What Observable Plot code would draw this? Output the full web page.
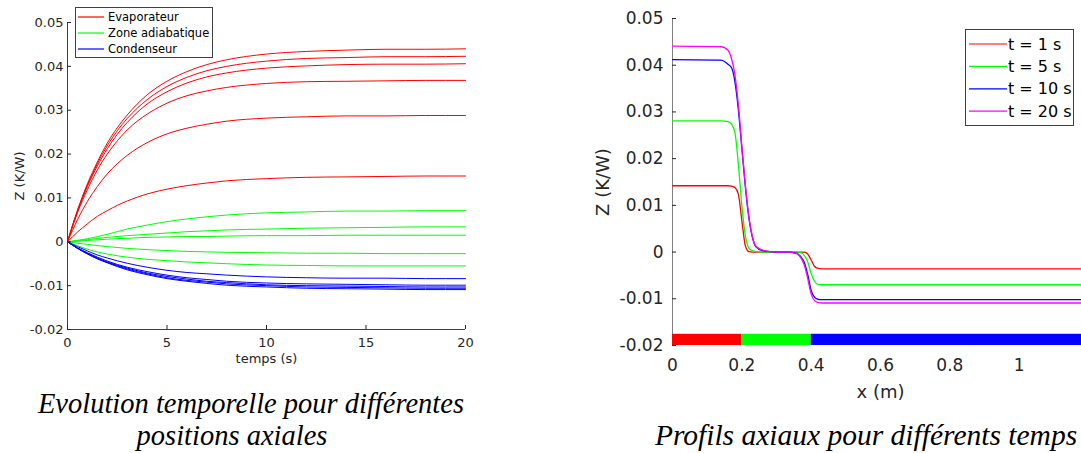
<!DOCTYPE html>
<html><head><meta charset="utf-8">
<script src="https://cdn.jsdelivr.net/npm/d3@7"></script>
<script src="https://cdn.jsdelivr.net/npm/@observablehq/plot@0.6"></script>
<style>
html,body{margin:0;padding:0;background:#fff;overflow:hidden;}
#page{position:relative;width:1081px;height:453px;overflow:hidden;background:#fff;}
#left{position:absolute;left:0;top:0;width:540px;height:380px;}
#right{position:absolute;left:540px;top:0;width:548px;height:420px;}
#left svg,#right svg{max-width:none !important;}
#overlay{position:absolute;left:0;top:0;pointer-events:none;}
</style></head><body>
<div id="page"><div id="left"></div><div id="right"></div><svg id="overlay" width="1081" height="453"></svg></div>
<script>
// ---------- Left panel: temporal evolution at several axial positions ----------
const timeEvap = [0,0.5,1,1.5,2,2.5,3,4,5,6,7,8,10,12,14,16,18,20];
const evap1 = [0,0.0072,0.0132,0.0182,0.0225,0.0260,0.0289,0.0335,0.0366,0.0388,0.0404,0.0415,0.0428,0.0434,0.0437,0.0439,0.0439,0.0440];
const evap2 = [0,0.0070,0.0129,0.0178,0.0219,0.0253,0.0281,0.0324,0.0354,0.0375,0.0390,0.0400,0.0412,0.0418,0.0420,0.0422,0.0422,0.0423];
const evap3 = [0,0.0069,0.0126,0.0173,0.0212,0.0245,0.0272,0.0314,0.0342,0.0362,0.0376,0.0385,0.0396,0.0401,0.0404,0.0405,0.0405,0.0406];
const evap4 = [0,0.0066,0.0119,0.0164,0.0200,0.0230,0.0255,0.0291,0.0316,0.0333,0.0344,0.0352,0.0361,0.0365,0.0366,0.0367,0.0368,0.0368];
const evap5 = [0,0.0050,0.0092,0.0126,0.0155,0.0178,0.0197,0.0226,0.0246,0.0259,0.0268,0.0275,0.0282,0.0285,0.0287,0.0287,0.0288,0.0288];
const evap6 = [0,0.0022,0.0041,0.0058,0.0071,0.0083,0.0093,0.0109,0.0120,0.0128,0.0134,0.0139,0.0144,0.0147,0.0148,0.0149,0.0150,0.0150];

const timeAdiab = [0,1,2,3,4,5,6,7,8,10,12,14,16,18,20];
const adiab1 = [0,0.0007,0.0017,0.0029,0.0038,0.0046,0.0052,0.0057,0.0061,0.0066,0.0068,0.0070,0.0070,0.0071,0.0071];
const adiab2 = [0,0.0005,0.0010,0.0014,0.0017,0.0020,0.0023,0.0025,0.0027,0.0029,0.0031,0.0032,0.0033,0.0034,0.0034];
const adiab3 = [0,0.0003,0.0006,0.0008,0.0010,0.0011,0.0012,0.0012,0.0013,0.0014,0.0014,0.0015,0.0015,0.0015,0.0015];
const adiab4 = [0,-0.0006,-0.0011,-0.0015,-0.0018,-0.0020,-0.0022,-0.0023,-0.0024,-0.0025,-0.0026,-0.0026,-0.0027,-0.0027,-0.0027];
const adiab5 = [0,-0.0017,-0.0028,-0.0035,-0.0040,-0.0043,-0.0046,-0.0048,-0.0050,-0.0053,-0.0054,-0.0055,-0.0055,-0.0055,-0.0055];

const timeCond = [0,0.5,1,1.5,2,3,4,5,6,7,8,10,12,14,16,18,20];
const cond1 = [0,-0.0011,-0.0021,-0.0030,-0.0037,-0.0049,-0.0058,-0.0065,-0.0070,-0.0073,-0.0076,-0.0080,-0.0082,-0.0083,-0.0083,-0.0084,-0.0084];
const cond2 = [0,-0.0014,-0.0025,-0.0035,-0.0044,-0.0058,-0.0068,-0.0076,-0.0082,-0.0086,-0.0090,-0.0094,-0.0096,-0.0097,-0.0098,-0.0099,-0.0099];
const cond3 = [0,-0.0014,-0.0026,-0.0037,-0.0046,-0.0060,-0.0071,-0.0079,-0.0085,-0.0090,-0.0093,-0.0098,-0.0100,-0.0101,-0.0102,-0.0103,-0.0103];
const cond4 = [0,-0.0015,-0.0027,-0.0038,-0.0047,-0.0062,-0.0073,-0.0082,-0.0088,-0.0092,-0.0096,-0.0100,-0.0103,-0.0104,-0.0105,-0.0106,-0.0106];
const cond5 = [0,-0.0015,-0.0028,-0.0039,-0.0048,-0.0064,-0.0075,-0.0084,-0.0090,-0.0095,-0.0099,-0.0103,-0.0106,-0.0107,-0.0108,-0.0109,-0.0109];

const zoneLabels = ["Evaporateur", "Zone adiabatique", "Condenseur"];
const zoneColors = ["#ff0000", "#00ff00", "#0000ff"];
const leftYTicks = [-0.02,-0.01,0,0.01,0.02,0.03,0.04,0.05];
const leftXTicks = [0,5,10,15,20];

// ---------- Right panel: axial profiles at several times ----------
const xPos = [0,0.14,0.16,0.17,0.18,0.19,0.20,0.21,0.22,0.23,0.24,0.26,0.28,0.30,0.34,0.35,0.36,0.37,0.38,0.39,0.40,0.41,0.42,0.43,0.45,0.50,0.80,1.20];
const prof1s  = [0.0142,0.0142,0.0142,0.0141,0.0138,0.0124,0.0068,0.0014,0.0001,0,0,0,0,0,0,0,0,0,0,-0.0004,-0.0017,-0.0031,-0.0035,-0.0036,-0.0036,-0.0036,-0.0036,-0.0036];
const prof5s  = [0.0281,0.0281,0.0279,0.0274,0.0256,0.0188,0.0100,0.0036,0.0009,0.0003,0.0001,0,0,0,0,0,0,-0.0001,-0.0007,-0.0021,-0.0046,-0.0063,-0.0069,-0.0070,-0.0070,-0.0070,-0.0070,-0.0070];
const prof10s = [0.0412,0.0411,0.0402,0.0395,0.0365,0.0305,0.0222,0.0141,0.0075,0.0033,0.0012,0.0003,0.0001,0,0,-0.0001,-0.0003,-0.0010,-0.0022,-0.0048,-0.0082,-0.0097,-0.0101,-0.0102,-0.0102,-0.0102,-0.0102,-0.0102];
const prof20s = [0.0441,0.0440,0.0432,0.0415,0.0380,0.0315,0.0228,0.0145,0.0078,0.0035,0.0013,0.0004,0.0001,0,0,-0.0002,-0.0004,-0.0012,-0.0027,-0.0056,-0.0090,-0.0104,-0.0108,-0.0109,-0.0109,-0.0109,-0.0109,-0.0109];
const profLabels = ["t = 1 s", "t = 5 s", "t = 10 s", "t = 20 s"];
const profColors = ["#ff0000", "#00ff00", "#0000ff", "#ff00ff"];

const zoneStart = [0, 0.2, 0.4];
const zoneEnd = [0.2, 0.4, 1.2];
const rightYTicks = [-0.02,-0.01,0,0.01,0.02,0.03,0.04,0.05];
const rightXTicks = [0,0.2,0.4,0.6,0.8,1];

const captionLeft = ["Evolution temporelle pour différentes", "positions axiales"];
const captionRight = "Profils axiaux pour différents temps";

// ---------- build tables ----------
const leftRows = [];
[[timeEvap, [evap1,evap2,evap3,evap4,evap5,evap6], 0],
 [timeAdiab, [adiab1,adiab2,adiab3,adiab4,adiab5], 1],
 [timeCond, [cond1,cond2,cond3,cond4,cond5], 2]].forEach(([ts, list, g]) => {
  list.forEach((vals, i) => vals.forEach((z, k) => leftRows.push({t: ts[k], z, id: g + "-" + i, color: zoneColors[g]})));
});
const rightRows = [];
[prof1s, prof5s, prof10s, prof20s].forEach((vals, i) => vals.forEach((z, k) => rightRows.push({x: xPos[k], z, id: i, color: profColors[i]})));
const zones = zoneStart.map((s, i) => ({x1: s, x2: zoneEnd[i], color: zoneColors[i]}));

const fmtZ = d => d === 0 ? "0" : d.toFixed(2);
const txt = "#262626";

const left = Plot.plot({
  width: 540, height: 380,
  marginLeft: 67, marginRight: 75, marginTop: 22, marginBottom: 51,
  style: {fontFamily: "DejaVu Sans", fontSize: "13px", background: "transparent", color: txt},
  x: {domain: [0, 20]},
  y: {domain: [-0.02, 0.05]},
  color: {type: "identity"},
  marks: [
    Plot.line(leftRows, {x: "t", y: "z", z: "id", stroke: "color", strokeWidth: 1, curve: "monotone-x"}),
    Plot.ruleX([0], {stroke: "#404040"}),
    Plot.ruleY([-0.02], {stroke: "#404040"}),
    Plot.axisY({ticks: leftYTicks, tickSize: -4, tickPadding: 8, tickFormat: fmtZ, label: null, color: txt, fontSize: 13}),
    Plot.axisX({ticks: leftXTicks, tickSize: -4, tickPadding: 12, tickFormat: d => String(d), label: null, color: txt, fontSize: 13}),
    Plot.text(["Z (K/W)"], {text: d => d, frameAnchor: "left", textAnchor: "middle", lineAnchor: "middle", rotate: -90, dx: -48, fontSize: 13, fill: txt}),
    Plot.text(["temps (s)"], {text: d => d, frameAnchor: "bottom", textAnchor: "middle", lineAnchor: "middle", dy: 29, fontSize: 13, fill: txt})
  ]
});
document.getElementById("left").appendChild(left);

const right = Plot.plot({
  width: 548, height: 420,
  marginLeft: 132, marginRight: 0, marginTop: 18, marginBottom: 75,
  style: {fontFamily: "DejaVu Sans", fontSize: "17px", background: "transparent", color: txt},
  x: {domain: [0, 1.2]},
  y: {domain: [-0.02, 0.05]},
  color: {type: "identity"},
  marks: [
    Plot.ruleX([0], {stroke: "#808080"}),
    Plot.line(rightRows, {x: "x", y: "z", z: "id", stroke: "color", strokeWidth: 1.3, curve: "monotone-x"}),
    Plot.rect(zones, {x1: "x1", x2: "x2", y1: -0.02, y2: -0.0176, fill: "color"}),
    Plot.axisY({ticks: rightYTicks, tickSize: -4, tickPadding: 13, tickFormat: fmtZ, label: null, color: txt, fontSize: 17}),
    Plot.axisX({ticks: rightXTicks, tickSize: 0, tickPadding: 13, tickFormat: d => String(d), label: null, color: txt, fontSize: 17}),
    Plot.text(["Z (K/W)"], {text: d => d, frameAnchor: "left", textAnchor: "middle", lineAnchor: "middle", rotate: -90, dx: -69, fontSize: 18, fill: txt}),
    Plot.text(["x (m)"], {text: d => d, frameAnchor: "bottom", textAnchor: "middle", lineAnchor: "middle", dy: 47, fontSize: 18, fill: txt})
  ]
});
document.getElementById("right").appendChild(right);

// ---------- legends and captions ----------
const ov = d3.select("#overlay");
function legend(box, rows, line, textX, fontSize, labels, colors) {
  const g = ov.append("g");
  g.append("rect").attr("x", box[0] + 0.5).attr("y", box[1] + 0.5).attr("width", box[2]).attr("height", box[3])
    .attr("fill", "#fff").attr("stroke", "#404040").attr("stroke-width", 1);
  labels.forEach((lab, i) => {
    const y = rows[0] + i * rows[1];
    g.append("line").attr("x1", line[0]).attr("x2", line[1]).attr("y1", y).attr("y2", y)
      .attr("stroke", colors[i]).attr("stroke-width", 1.2);
    g.append("text").attr("x", textX).attr("y", y).attr("dominant-baseline", "central")
      .attr("font-family", "DejaVu Sans").attr("font-size", fontSize).attr("fill", "#000").text(lab);
  });
}
legend([75, 7, 137, 50], [17, 16], [78, 104], 108, 11.5, zoneLabels, zoneColors);
legend([965, 29, 108, 96], [44, 22.4], [969, 1007], 1008, 16, profLabels, profColors);

function caption(x, y, s, size) {
  ov.append("text").attr("x", x).attr("y", y).attr("text-anchor", "middle")
    .attr("font-family", "Liberation Serif").attr("font-style", "italic").attr("font-size", size)
    .attr("fill", "#000").text(s);
}
caption(251, 413, captionLeft[0], 28.5);
caption(232, 445, captionLeft[1], 28.5);
caption(866, 445, captionRight, 29.5);
</script></body></html>
